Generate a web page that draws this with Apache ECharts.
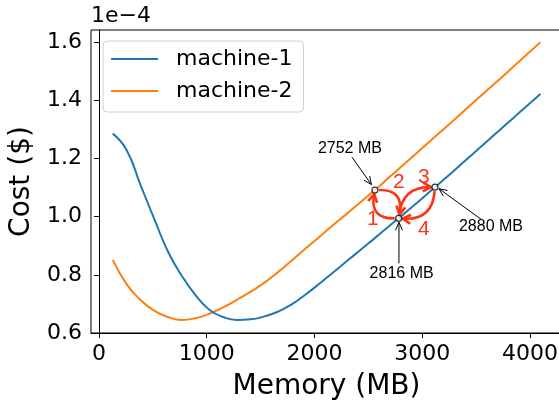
<!DOCTYPE html>
<html>
<head>
<meta charset="utf-8">
<script src="https://cdn.jsdelivr.net/npm/echarts@6/dist/echarts.min.js"></script>
<style>
  html, body { margin: 0; padding: 0; background: #fff; }
  #chart { width: 559px; height: 400px; }
</style>
</head>
<body>
<div id="chart"></div>
<script>
// Memory sizes (MB) and cost per invocation (in units of 1e-4 $)
const memoryMB = [128, 256, 384, 512, 640, 768, 896, 1024, 1152, 1280, 1408, 1536, 1664, 1792, 1920, 2048,
                  2176, 2304, 2432, 2560, 2688, 2816, 2944, 3072, 3200, 3328, 3456, 3584, 3712, 3840, 3968, 4096];
const machine1Cost = [1.285, 1.229, 1.110, 0.993, 0.880, 0.797, 0.730, 0.680, 0.655, 0.645, 0.647, 0.657, 0.674, 0.699, 0.733, 0.770,
                      0.809, 0.848, 0.887, 0.926, 0.966, 1.005, 1.045, 1.086, 1.127, 1.169, 1.211, 1.253, 1.295, 1.337, 1.379, 1.421];
const machine2Cost = [0.851, 0.768, 0.714, 0.677, 0.655, 0.645, 0.651, 0.666, 0.688, 0.714, 0.742, 0.773, 0.810, 0.850, 0.891, 0.931,
                      0.972, 1.011, 1.051, 1.091, 1.133, 1.175, 1.217, 1.259, 1.301, 1.343, 1.386, 1.428, 1.470, 1.513, 1.556, 1.599];

const xTicks = [0, 1000, 2000, 3000, 4000];
const yTicks = [0.6, 0.8, 1.0, 1.2, 1.4, 1.6];

// Search steps highlighted on the curves
const stepMem = [2561, 2781, 3118];
const stepCost = [1.091, 0.994, 1.101];
const stepLabels = ['2752 MB', '2816 MB', '2880 MB'];
const stepOrder = ['1', '2', '3', '4'];

const AX_FONT = 'DejaVu Sans';
const NOTE_FONT = 'Liberation Sans';
const RED = '#ff3414';

const chart = echarts.init(document.getElementById('chart'), null, { renderer: 'canvas' });

chart.setOption({
  animation: false,
  backgroundColor: '#fff',
  grid: { left: 91, right: -3, top: 30, bottom: 67, show: true, borderColor: '#000', borderWidth: 1,
          outerBoundsMode: 'none', containLabel: false },
  legend: {
    orient: 'vertical',
    left: 103, top: 41,
    padding: [7, 11, 10, 8],
    itemGap: 10,
    itemWidth: 47, itemHeight: 2,
    icon: 'rect',
    backgroundColor: 'rgba(255,255,255,0.8)',
    borderColor: '#d0d0d0', borderWidth: 1, borderRadius: 4,
    textStyle: { fontFamily: AX_FONT, fontSize: 22, color: '#000', padding: [0, 0, 0, 13] },
    data: ['machine-1', 'machine-2']
  },
  xAxis: {
    type: 'value', min: -74, max: 4297,
    name: 'Memory (MB)', nameLocation: 'middle', nameGap: 40,
    nameTextStyle: { fontFamily: AX_FONT, fontSize: 28, color: '#000' },
    axisLine: { show: true, lineStyle: { color: '#000', width: 1 } },
    axisTick: { show: true, length: 5, lineStyle: { color: '#000' }, customValues: xTicks },
    axisLabel: { fontFamily: AX_FONT, fontSize: 22, color: '#000', margin: 10, customValues: xTicks,
                 formatter: v => String(Math.round(v)) },
    splitLine: { show: false }
  },
  yAxis: {
    type: 'value', min: 0.6, max: 1.641,
    name: 'Cost ($)', nameLocation: 'middle', nameGap: 46, nameRotate: 90,
    nameTextStyle: { fontFamily: AX_FONT, fontSize: 28, color: '#000' },
    axisLine: { show: true, lineStyle: { color: '#000', width: 1 } },
    axisTick: { show: true, length: 5, lineStyle: { color: '#000' }, customValues: yTicks },
    axisLabel: { fontFamily: AX_FONT, fontSize: 22, color: '#000', margin: 9, customValues: yTicks,
                 formatter: v => v.toFixed(1) },
    splitLine: { show: false }
  },
  series: [
    {
      name: 'machine-1', type: 'line', color: '#1f77b4',
      data: memoryMB.map((m, i) => [m, machine1Cost[i]]),
      showSymbol: false, smooth: 0.5,
      lineStyle: { width: 2, color: '#1f77b4' }, z: 3
    },
    {
      name: 'machine-2', type: 'line', color: '#ff7f0e',
      data: memoryMB.map((m, i) => [m, machine2Cost[i]]),
      showSymbol: false, smooth: 0.5,
      lineStyle: { width: 2, color: '#ff7f0e' }, z: 2
    },
    {
      name: 'steps', type: 'scatter',
      data: stepMem.map((m, i) => [m, stepCost[i]]),
      symbol: 'circle', symbolSize: 6,
      itemStyle: { color: '#fff', borderColor: '#000', borderWidth: 1.2 },
      z: 20
    }
  ]
});

// ---- annotations: arrows between the search steps and value callouts ----
const px = stepMem.map((m, i) => chart.convertToPixel({ gridIndex: 0 }, [m, stepCost[i]]));

function unit(dx, dy) { const l = Math.hypot(dx, dy) || 1; return [dx / l, dy / l]; }

function head(tip, u, len, half, color, width) {
  const n = [-u[1], u[0]];
  const bx = tip[0] - u[0] * len, by = tip[1] - u[1] * len;
  return {
    type: 'polyline', z: 15, silent: true,
    shape: { points: [[bx + n[0] * half, by + n[1] * half], tip, [bx - n[0] * half, by - n[1] * half]] },
    style: { stroke: color, lineWidth: width, fill: null, lineJoin: 'miter' }
  };
}

const elems = [];

// curved red moves: from step a to step b, bent by rad
const moves = [
  { from: 1, to: 0, rad: 0.62, num: [-14, 15] },
  { from: 0, to: 1, rad: 0.62, num: [12, -22] },
  { from: 1, to: 2, rad: 0.45, num: [7, -26] },
  { from: 2, to: 1, rad: 0.5, num: [7, 26] }
];
moves.forEach((mv, k) => {
  const p0 = px[mv.from], p1 = px[mv.to];
  const dx = p1[0] - p0[0], dy = p1[1] - p0[1];
  const mid = [(p0[0] + p1[0]) / 2, (p0[1] + p1[1]) / 2];
  const c = [mid[0] + mv.rad * dy, mid[1] - mv.rad * dx];
  const u0 = unit(c[0] - p0[0], c[1] - p0[1]);
  const u1 = unit(p1[0] - c[0], p1[1] - c[1]);
  const s = [p0[0] + u0[0] * 4, p0[1] + u0[1] * 4];
  const e = [p1[0] - u1[0] * 4, p1[1] - u1[1] * 4];
  elems.push({
    type: 'bezierCurve', z: 15, silent: true,
    shape: { x1: s[0], y1: s[1], x2: e[0], y2: e[1], cpx1: c[0], cpy1: c[1] },
    style: { stroke: RED, lineWidth: 2.6, fill: null }
  });
  elems.push(head(e, u1, 8, 4.5, RED, 2.6));
  elems.push({
    type: 'text', z: 16, silent: true,
    style: { x: mid[0] + mv.num[0], y: mid[1] + mv.num[1], text: stepOrder[k],
             font: '21px "' + NOTE_FONT + '"', fill: RED, align: 'center', verticalAlign: 'middle' }
  });
});

// black callouts: label offset, arrow start and end offsets (relative to the step point)
const callouts = [
  { label: [-25, -41], a: [-23, -33], b: [-3.5, -5.5] },
  { label: [3, 55], a: [0.3, 45], b: [0.3, 4] },
  { label: [56, 39], a: [46, 32], b: [4, 1.5] }
];
callouts.forEach((co, i) => {
  const p = px[i];
  const a = [p[0] + co.a[0], p[1] + co.a[1]];
  const b = [p[0] + co.b[0], p[1] + co.b[1]];
  elems.push({
    type: 'line', z: 14, silent: true,
    shape: { x1: a[0], y1: a[1], x2: b[0], y2: b[1] },
    style: { stroke: '#000', lineWidth: 1 }
  });
  elems.push(head(b, unit(b[0] - a[0], b[1] - a[1]), 8, 3.5, '#000', 1));
  elems.push({
    type: 'text', z: 16, silent: true,
    style: { x: p[0] + co.label[0], y: p[1] + co.label[1], text: stepLabels[i],
             font: '16px "' + NOTE_FONT + '"', fill: '#000', align: 'center', verticalAlign: 'middle' }
  });
});

// axis scale factor shown above the y axis
elems.push({
  type: 'text', z: 16, silent: true,
  style: { x: 91, y: 27, text: '1e\u22124', font: '22px "' + AX_FONT + '"', fill: '#000',
           align: 'left', verticalAlign: 'bottom' }
});

chart.setOption({ graphic: { elements: elems } });
</script>
</body>
</html>
